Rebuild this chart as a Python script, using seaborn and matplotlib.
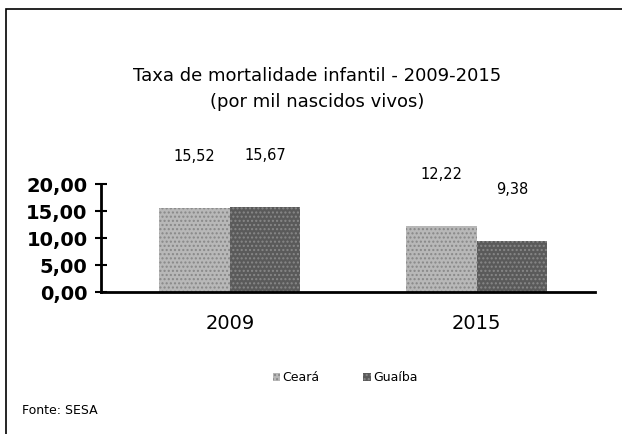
import pandas as pd
import matplotlib.pyplot as plt
import seaborn as sns
from matplotlib.patches import Rectangle

# Dados
anos = ['2009', '2015']
ceara = [15.52, 12.22]
guaiba = [15.67, 9.38]
series = ['Ceará', 'Guaíba']
rotulos_y = ['0,00', '5,00', '10,00', '15,00', '20,00']

df = pd.DataFrame({
    'ano': anos * 2,
    'taxa': ceara + guaiba,
    'local': [series[0]] * 2 + [series[1]] * 2,
})

sns.set_theme(style='white')
plt.rcParams['font.family'] = ['DejaVu Sans']
plt.rcParams['text.color'] = 'black'
plt.rcParams['xtick.color'] = 'black'
plt.rcParams['ytick.color'] = 'black'

fig = plt.figure(figsize=(6.22, 4.34), dpi=100)
ax = fig.add_axes([0.163, 0.327, 0.794, 0.249])

sns.barplot(data=df, x='ano', y='taxa', hue='local', order=anos,
            hue_order=series, palette=['#b8b8b8', '#5a5a5a'],
            width=0.57, saturation=1, ax=ax, legend=False)

for bar in ax.patches:
    bar.set_hatch('....')
    bar.set_edgecolor('#888888')
    bar.set_linewidth(0)
    bar.set_x(bar.get_x() + 0.02)

# Rótulos dos valores
for cont in ax.containers:
    labels = [f'{v:.2f}'.replace('.', ',') for v in cont.datavalues]
    ax.bar_label(cont, labels=labels, padding=32, fontsize=10.5)

ax.set_ylim(0, 20)
ax.set_xlim(-0.5, 1.5)
ax.set_yticks([0, 5, 10, 15, 20])
ax.set_yticklabels(rotulos_y, fontsize=14, fontweight='bold')
ax.set_xticks([0.02, 1.02])
ax.set_xticklabels(anos, fontsize=14)
ax.set_xticks([-0.5, 0.5, 1.5], minor=True)
ax.tick_params(axis='x', which='major', length=0, pad=16)
ax.tick_params(axis='x', which='minor', length=10, width=1.5,
               direction='inout', color='black')
ax.tick_params(axis='y', length=8, width=1.5, direction='inout',
               color='black', pad=6, left=True)
ax.set_xlabel('')
ax.set_ylabel('')
for s in ['top', 'right']:
    ax.spines[s].set_visible(False)
for s in ['left', 'bottom']:
    ax.spines[s].set_color('black')
    ax.spines[s].set_linewidth(2)

fig.text(0.51, 0.826, 'Taxa de mortalidade infantil - 2009-2015',
         ha='center', va='center', fontsize=13)
fig.text(0.51, 0.764, '(por mil nascidos vivos)',
         ha='center', va='center', fontsize=13)

# Legenda
handles = [Rectangle((0, 0), 1, 1, facecolor=c, hatch='....', edgecolor='#888888', linewidth=0)
           for c in ['#b8b8b8', '#5a5a5a']]
fig.legend(handles, series, loc='center', bbox_to_anchor=(0.555, 0.13),
           ncol=2, frameon=False, fontsize=9, handlelength=0.6,
           handleheight=0.6, handletextpad=0.2, columnspacing=3.5)

fig.text(0.035, 0.055, 'Fonte: SESA', fontsize=9, va='center')

fig.patches.append(Rectangle((0.01, -0.01), 1.0, 0.99, transform=fig.transFigure,
                             fill=False, edgecolor='black', linewidth=1.2))

fig.savefig('out.png', dpi=100)
